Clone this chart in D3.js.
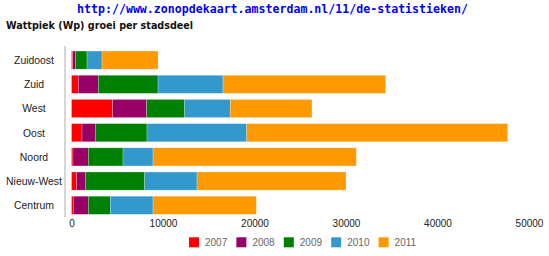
<!DOCTYPE html>
<html>
<head>
<meta charset="utf-8">
<script src="https://cdn.jsdelivr.net/npm/d3@7"></script>
<style>
  body { margin: 0; background: #fff; }
  svg { display: block; }
</style>
</head>
<body>
<script>
// data
let districts = ['Zuidoost', 'Zuid', 'West', 'Oost', 'Noord', 'Nieuw-West', 'Centrum']
let years = ['2007', '2008', '2009', '2010', '2011']
let colors = ['#ff0000', '#990066', '#008000', '#3399cc', '#ff9900']
let w2007 = [130, 740, 4500, 1150, 160, 570, 200]
let w2008 = [290, 2190, 3720, 1450, 1680, 940, 1640]
let w2009 = [1280, 6530, 4150, 5650, 3790, 6490, 2400]
let w2010 = [1640, 7100, 4980, 10900, 3280, 5720, 4670]
let w2011 = [6120, 17780, 8930, 28520, 22220, 16280, 11290]
let xTicks = [0, 10000, 20000, 30000, 40000, 50000]

let series = [w2007, w2008, w2009, w2010, w2011]
let rows = districts.map((d, i) => {
    let r = { district: d }
    years.forEach((y, j) => r[y] = series[j][i])
    return r
})
let stacked = d3.stack().keys(years)(rows)

let svg = d3.select('body')
    .append('svg')
    .attr('width', 549)
    .attr('height', 256)

// titles
svg.append('text')
    .attr('x', 272.5)
    .attr('y', 13)
    .attr('text-anchor', 'middle')
    .style('font-family', '"DejaVu Sans Mono", monospace')
    .style('font-weight', 'bold')
    .style('font-size', '11.6px')
    .style('fill', '#0000ff')
    .text('http://www.zonopdekaart.amsterdam.nl/11/de-statistieken/')

svg.append('text')
    .attr('x', 6)
    .attr('y', 29)
    .style('font-family', '"DejaVu Sans", Verdana, sans-serif')
    .style('font-weight', 'bold')
    .style('font-size', '9.6px')
    .style('fill', '#111')
    .text('Wattpiek (Wp) groei per stadsdeel')

let x = d3.scaleLinear()
    .domain([0, 50000])
    .range([71.5, 529])

let y = d3.scaleBand()
    .domain(districts)
    .range([45, 220.4])
    .paddingInner(0.25)
    .paddingOuter(0.25)

// bars
svg.append('g')
    .selectAll('g')
    .data(stacked)
    .join('g')
    .style('fill', (d, i) => colors[i])
    .selectAll('rect')
    .data(d => d)
    .join('rect')
    .attr('x', d => x(d[0]))
    .attr('y', d => y(d.data.district))
    .attr('width', d => x(d[1]) - x(d[0]))
    .attr('height', y.bandwidth())
    .style('stroke', 'rgba(255,255,255,0.4)')
    .style('stroke-width', 0.6)

// category axis
svg.append('line')
    .attr('x1', 65)
    .attr('x2', 65)
    .attr('y1', 46)
    .attr('y2', 217)
    .style('stroke', '#cccccc')
    .style('stroke-width', 1.6)

svg.append('g')
    .selectAll('text')
    .data(districts)
    .join('text')
    .attr('x', 34)
    .attr('y', d => y(d) + y.bandwidth() / 2 + 3.8)
    .attr('text-anchor', 'middle')
    .style('font-family', '"Liberation Sans", Arial, sans-serif')
    .style('font-size', '10.4px')
    .style('fill', '#222')
    .text(d => d)

// value axis
let xAxis = svg.append('g')
    .attr('transform', 'translate(0,211)')
    .call(d3.axisBottom(x).tickValues(xTicks).tickSize(0).tickPadding(9).tickFormat(d3.format('d')))
xAxis.select('.domain').remove()
xAxis.selectAll('text')
    .style('font-family', '"Liberation Sans", Arial, sans-serif')
    .style('font-size', '10px')
    .style('fill', '#222')

// legend
let legend = svg.append('g')
    .selectAll('g')
    .data(years)
    .join('g')
    .attr('transform', (d, i) => `translate(${189 + i * 47.4},237.3)`)

legend.append('rect')
    .attr('width', 10)
    .attr('height', 10)
    .style('fill', (d, i) => colors[i])

legend.append('text')
    .attr('x', 16)
    .attr('y', 8.6)
    .style('font-family', '"Liberation Sans", Arial, sans-serif')
    .style('font-size', '10px')
    .style('fill', '#666')
    .text(d => d)
</script>
</body>
</html>
